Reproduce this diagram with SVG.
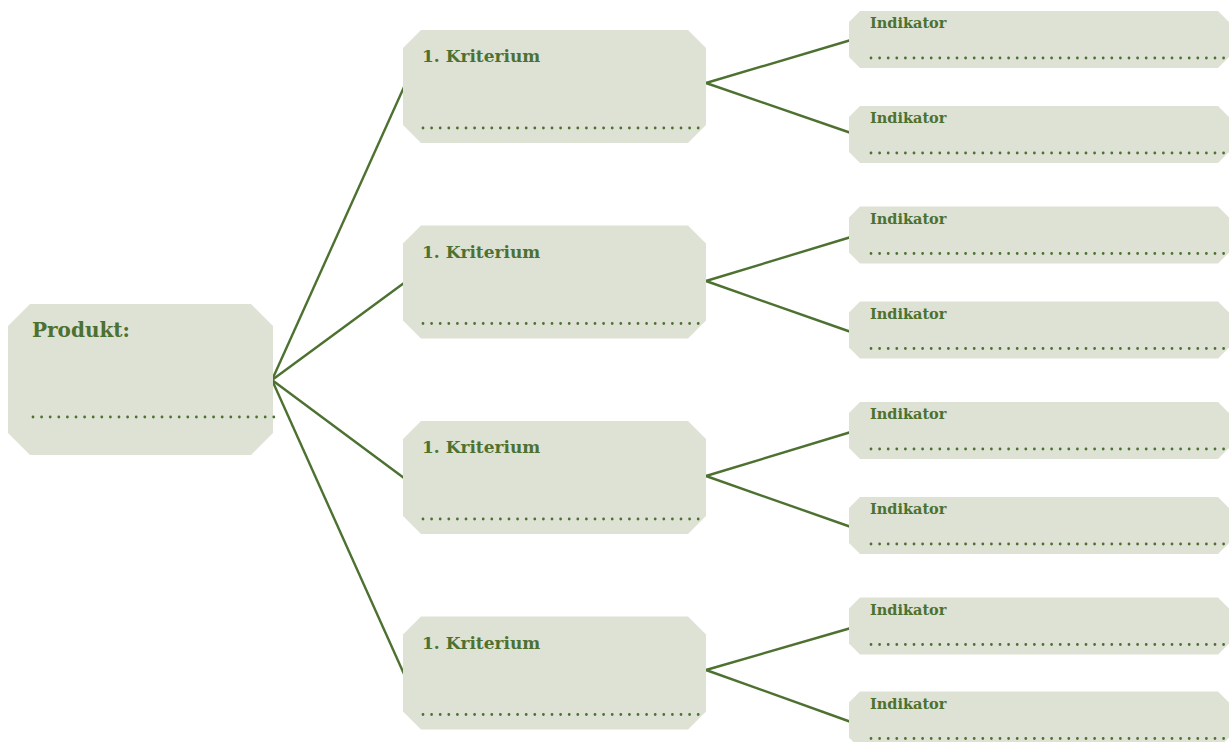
<svg xmlns="http://www.w3.org/2000/svg" width="1230" height="742" viewBox="0 0 1230 742">
<style>
.box{fill:#dde2d4}
.lbl{fill:#4d7130;font-family:"DejaVu Serif","Liberation Serif",serif;font-weight:900}
.dots{stroke:#4d7130;stroke-width:2.8;stroke-linecap:round;stroke-dasharray:0 8.6;fill:none}
.conn line{stroke:#4d7130;stroke-width:2.4}
</style>
<rect width="1230" height="742" fill="#fff"/>
<g class="conn">
<line x1="272" y1="380" x2="404" y2="87"/>
<line x1="272" y1="380" x2="404" y2="283"/>
<line x1="272" y1="380" x2="404" y2="478"/>
<line x1="272" y1="380" x2="404" y2="674"/>
<line x1="706" y1="83" x2="851" y2="40"/>
<line x1="706" y1="83" x2="851" y2="133"/>
<line x1="706" y1="281" x2="851" y2="237"/>
<line x1="706" y1="281" x2="851" y2="332"/>
<line x1="706" y1="476" x2="851" y2="432"/>
<line x1="706" y1="476" x2="851" y2="527"/>
<line x1="706" y1="670" x2="851" y2="628"/>
<line x1="706" y1="670" x2="851" y2="722"/>
</g>
<g id="produkt">
<polygon class="box" points="30,304 251,304 273,326 273,433 251,455 30,455 8,433 8,326"/>
<text class="lbl" x="32" y="337" font-size="20">Produkt:</text>
<line class="dots" x1="33" y1="417" x2="274" y2="417"/>
</g>
<g id="krit1" transform="translate(0,0)">
<polygon class="box" points="421,30 688,30 706,48 706,125 688,143 421,143 403,125 403,48"/>
<text class="lbl" x="422" y="62" font-size="17">1. Kriterium</text>
<line class="dots" x1="423" y1="128" x2="703" y2="128"/>
</g>
<g id="krit2" transform="translate(0,195.5)">
<polygon class="box" points="421,30 688,30 706,48 706,125 688,143 421,143 403,125 403,48"/>
<text class="lbl" x="422" y="62" font-size="17">1. Kriterium</text>
<line class="dots" x1="423" y1="128" x2="703" y2="128"/>
</g>
<g id="krit3" transform="translate(0,391)">
<polygon class="box" points="421,30 688,30 706,48 706,125 688,143 421,143 403,125 403,48"/>
<text class="lbl" x="422" y="62" font-size="17">1. Kriterium</text>
<line class="dots" x1="423" y1="128" x2="703" y2="128"/>
</g>
<g id="krit4" transform="translate(0,586.5)">
<polygon class="box" points="421,30 688,30 706,48 706,125 688,143 421,143 403,125 403,48"/>
<text class="lbl" x="422" y="62" font-size="17">1. Kriterium</text>
<line class="dots" x1="423" y1="128" x2="703" y2="128"/>
</g>
<g id="ind1" transform="translate(0,0)">
<polygon class="box" points="860,11 1218,11 1229,22 1229,57 1218,68 860,68 849,57 849,22"/>
<text class="lbl" x="870" y="28" font-size="14.5">Indikator</text>
<line class="dots" x1="871" y1="58" x2="1226" y2="58"/>
</g>
<g id="ind2" transform="translate(0,95)">
<polygon class="box" points="860,11 1218,11 1229,22 1229,57 1218,68 860,68 849,57 849,22"/>
<text class="lbl" x="870" y="28" font-size="14.5">Indikator</text>
<line class="dots" x1="871" y1="58" x2="1226" y2="58"/>
</g>
<g id="ind3" transform="translate(0,195.5)">
<polygon class="box" points="860,11 1218,11 1229,22 1229,57 1218,68 860,68 849,57 849,22"/>
<text class="lbl" x="870" y="28" font-size="14.5">Indikator</text>
<line class="dots" x1="871" y1="58" x2="1226" y2="58"/>
</g>
<g id="ind4" transform="translate(0,290.5)">
<polygon class="box" points="860,11 1218,11 1229,22 1229,57 1218,68 860,68 849,57 849,22"/>
<text class="lbl" x="870" y="28" font-size="14.5">Indikator</text>
<line class="dots" x1="871" y1="58" x2="1226" y2="58"/>
</g>
<g id="ind5" transform="translate(0,391)">
<polygon class="box" points="860,11 1218,11 1229,22 1229,57 1218,68 860,68 849,57 849,22"/>
<text class="lbl" x="870" y="28" font-size="14.5">Indikator</text>
<line class="dots" x1="871" y1="58" x2="1226" y2="58"/>
</g>
<g id="ind6" transform="translate(0,486)">
<polygon class="box" points="860,11 1218,11 1229,22 1229,57 1218,68 860,68 849,57 849,22"/>
<text class="lbl" x="870" y="28" font-size="14.5">Indikator</text>
<line class="dots" x1="871" y1="58" x2="1226" y2="58"/>
</g>
<g id="ind7" transform="translate(0,586.5)">
<polygon class="box" points="860,11 1218,11 1229,22 1229,57 1218,68 860,68 849,57 849,22"/>
<text class="lbl" x="870" y="28" font-size="14.5">Indikator</text>
<line class="dots" x1="871" y1="58" x2="1226" y2="58"/>
</g>
<g id="ind8" transform="translate(0,680.5)">
<polygon class="box" points="860,11 1218,11 1229,22 1229,57 1218,68 860,68 849,57 849,22"/>
<text class="lbl" x="870" y="28" font-size="14.5">Indikator</text>
<line class="dots" x1="871" y1="58" x2="1226" y2="58"/>
</g>
</svg>
